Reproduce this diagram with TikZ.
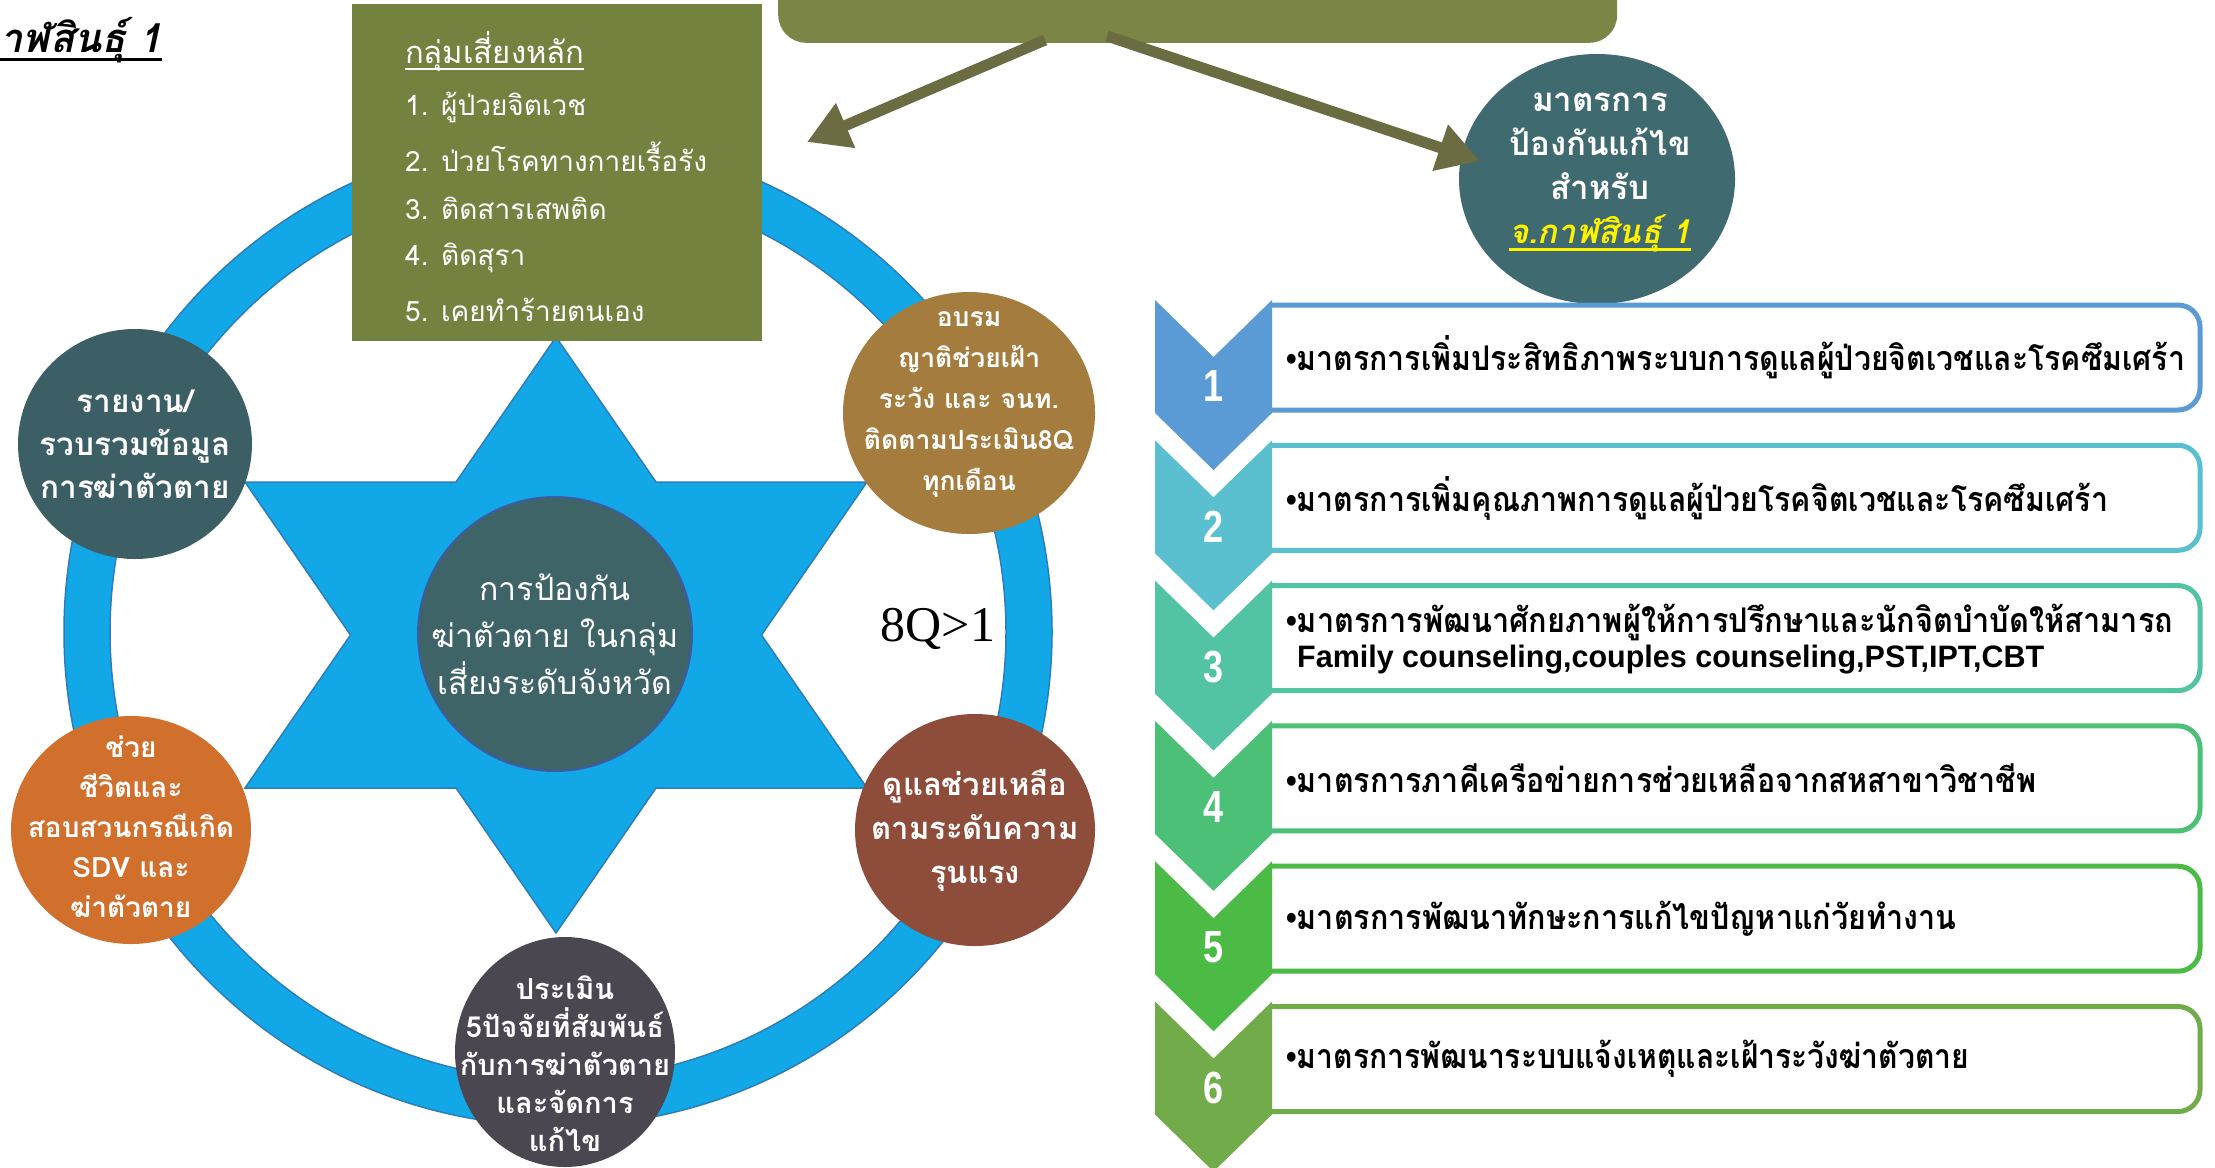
\documentclass[tikz,border=0pt]{standalone}
\usepackage{fontspec}
\usepackage{graphicx}
\setmainfont{Liberation Sans}
\newfontfamily\thai[Script=Thai]{Loma}
\newfontfamily\serif{Liberation Serif}
\usetikzlibrary{arrows.meta,shapes.geometric}
\definecolor{olivebox}{HTML}{74823F}
\definecolor{bannerc}{HTML}{7B8546}
\definecolor{arrowc}{HTML}{6C6C43}
\definecolor{ringc}{HTML}{12A8E8}
\definecolor{ringedge}{HTML}{2C7DB8}
\definecolor{ctrc}{HTML}{3F6468}
\definecolor{ctrborder}{HTML}{3B5DA6}
\definecolor{tealc}{HTML}{3C5E65}
\definecolor{browna}{HTML}{A47C3D}
\definecolor{brownb}{HTML}{8E4C3A}
\definecolor{grayp}{HTML}{4B4751}
\definecolor{orangec}{HTML}{D0702C}
\definecolor{ellc}{HTML}{3F6A70}
\definecolor{cha}{HTML}{5B9BD5}
\definecolor{chb}{HTML}{5AC0CF}
\definecolor{chc}{HTML}{52C4A4}
\definecolor{chd}{HTML}{4BC076}
\definecolor{che}{HTML}{4CBB46}
\definecolor{chf}{HTML}{72AC4A}
\newsavebox\ulbox
\newcommand\myul[3]{\sbox\ulbox{#3}\usebox\ulbox\llap{\raisebox{-#1}{\rule{\wd\ulbox}{#2}}}}
\newcommand\fitw[2]{\resizebox{#1}{\height}{#2}}
\newcommand\blt{{\rmfamily •}}
\newcommand\chevrow[3]{%
  \draw[#2, line width=5pt, rounded corners=22pt] (1272,305+#1) -- (2200,305+#1) -- (2200,410+#1) -- (1272,410+#1);
  \fill[#2] (1155,300+#1) -- (1213.5,357+#1) -- (1272,300+#1) -- (1272,413+#1) -- (1213.5,470+#1) -- (1155,413+#1) -- cycle;
  \node[num] (n#3) at (1213.5,386+#1) {\scalebox{0.8}[1]{#3}};
}
\tikzset{
  bubble/.style={ellipse, inner sep=0pt},
  ctxt/.style={text=white, align=center, inner sep=0pt},
  rowtxt/.style={anchor=west, inner sep=0pt, text=black, font=\thai\bfseries\fontsize{34}{36}\selectfont},
  num/.style={text=white, font=\bfseries\fontsize{45}{45}\selectfont, inner sep=0pt},
  arr/.style={draw=arrowc, line width=11pt, -{Triangle[length=42pt,width=46pt]}},
  listtxt/.style={anchor=west, inner sep=0pt, text=white, font=\thai\fontsize{28}{30}\selectfont},
}
\begin{document}
\begin{tikzpicture}[x=1pt,y=-1pt]
\useasboundingbox (0,0) rectangle (2215,1167);
\clip (0,0) rectangle (2215,1167);
\fill[white] (0,0) rectangle (2215,1167);
% ring
\fill[ringc, even odd rule] (558,632) circle[radius=494pt] (558,632) circle[radius=448pt];
\draw[ringedge, line width=1.5pt] (558,632) circle[radius=494pt] (558,632) circle[radius=448pt];
% star
\filldraw[fill=ringc, draw=ringedge, line width=1.5pt, line join=miter]
  (556,337) -- (656,482) -- (867,482) -- (761.5,635) -- (867,788) -- (656,788) -- (556,933)
  -- (456,788) -- (245,788) -- (350.5,635) -- (245,482) -- (456,482) -- cycle;
% circles
\node[bubble, fill=ctrc, draw=ctrborder, line width=2pt, minimum width=274pt, minimum height=274pt] (ctr) at (555,634) {};
\node[ctxt, font=\thai\fontsize{32}{47}\selectfont] at (ctr) {การป้องกัน\\ฆ่าตัวตาย ในกลุ่ม\\เสี่ยงระดับจังหวัด};
\node[bubble, fill=tealc, minimum width=234pt, minimum height=230pt] (c1) at (135,444) {};
\node[ctxt, font=\thai\bfseries\fontsize{31.5}{43}\selectfont] at (c1) {รายงาน/\\รวบรวมข้อมูล\\การฆ่าตัวตาย};
\node[bubble, fill=browna, minimum width=252pt, minimum height=242pt] (c2) at (969,413) {};
\node[ctxt, font=\thai\bfseries\fontsize{26.5}{41}\selectfont] at (969,405) {อบรม\\ญาติช่วยเฝ้า\\ระวัง และ จนท.\\ติดตามประเมิน8Q\\ทุกเดือน};
\node[bubble, fill=brownb, minimum width=240pt, minimum height=232pt] (c3) at (975,830) {};
\node[ctxt, font=\thai\bfseries\fontsize{31}{44}\selectfont] at (c3) {ดูแลช่วยเหลือ\\ตามระดับความ\\รุนแรง};
\node[bubble, fill=grayp, minimum width=220pt, minimum height=230pt] (c4) at (565,1052) {};
\node[ctxt, font=\thai\bfseries\fontsize{29}{38}\selectfont] at (565,1064) {ประเมิน\\5ปัจจัยที่สัมพันธ์\\กับการฆ่าตัวตาย\\และจัดการ\\แก้ไข};
\node[bubble, fill=orangec, minimum width=240pt, minimum height=228pt] (c5) at (131,830) {};
\node[ctxt, font=\thai\bfseries\fontsize{28}{40}\selectfont] at (131,827) {ช่วย\\ชีวิตและ\\สอบสวนกรณีเกิด\\SDV และ\\ฆ่าตัวตาย};
\node[font=\serif\fontsize{50}{50}\selectfont, inner sep=0pt] (q) at (938,629) {8Q>1};
% risk group box
\node[fill=olivebox, minimum width=410pt, minimum height=337pt, anchor=north west, inner sep=0pt] (risk) at (352,4) {};
\node[listtxt, font=\thai\fontsize{31}{32}\selectfont] (l0) at (405,52) {\myul{6pt}{2pt}{กลุ่มเสี่ยงหลัก}};
\node[listtxt] (l1) at (405,107) {1. ผู้ป่วยจิตเวช};
\node[listtxt] (l2) at (405,157) {2. ป่วยโรคทางกายเรื้อรัง};
\node[listtxt] (l3) at (405,208) {3. ติดสารเสพติด};
\node[listtxt] (l4) at (405,258) {4. ติดสุรา};
\node[listtxt] (l5) at (405,310) {5. เคยทำร้ายตนเอง};
% banner
\node[fill=bannerc, rounded corners=28pt, minimum width=839pt, minimum height=140pt, anchor=south west, inner sep=0pt] (banner) at (778,43) {};
% ellipse
\node[bubble, fill=ellc, minimum width=276pt, minimum height=250pt] (ell) at (1597,179) {};
\node[ctxt, font=\thai\bfseries\fontsize{33}{44}\selectfont] at (1600,173) {มาตรการ\\ป้องกันแก้ไข\\สำหรับ\\{\color{yellow}\itshape\myul{7pt}{3pt}{จ.กาฬสินธุ์ 1}}};
% arrows
\coordinate (a1s) at (1045,40);
\coordinate (a1e) at (807,142);
\coordinate (a2s) at (1107,36);
\coordinate (a2e) at (1480,161);
\draw[arr] (a1s) -- (a1e);
\draw[arr] (a2s) -- (a2e);
% top-left title
\node[anchor=base west, inner sep=0pt, font=\thai\bfseries\itshape\fontsize{40}{40}\selectfont] (ttl) at (0,52) {\myul{9pt}{3pt}{าฬสินธุ์ 1}};
% right list
\chevrow{0}{cha}{1}
\chevrow{140.3}{chb}{2}
\chevrow{280.6}{chc}{3}
\chevrow{420.9}{chd}{4}
\chevrow{561.2}{che}{5}
\chevrow{701.5}{chf}{6}
\node[rowtxt] (t1) at (1286,357) {\fitw{899pt}{\blt มาตรการเพิ่มประสิทธิภาพระบบการดูแลผู้ป่วยจิตเวชและโรคซึมเศร้า}};
\node[rowtxt] (t2) at (1286,498) {\fitw{822pt}{\blt มาตรการเพิ่มคุณภาพการดูแลผู้ป่วยโรคจิตเวชและโรคซึมเศร้า}};
\node[rowtxt, align=left, font=\thai\bfseries\fontsize{34}{35}\selectfont] (t3) at (1286,639) {\fitw{887pt}{\blt มาตรการพัฒนาศักยภาพผู้ให้การปรึกษาและนักจิตบำบัดให้สามารถ}\\\hspace*{11pt}{\rmfamily\bfseries\fontsize{31}{35}\selectfont\fitw{747pt}{Family counseling,couples counseling,PST,IPT,CBT}}};
\node[rowtxt] (t4) at (1286,778) {\fitw{750pt}{\blt มาตรการภาคีเครือข่ายการช่วยเหลือจากสหสาขาวิชาชีพ}};
\node[rowtxt] (t5) at (1286,919) {\fitw{670pt}{\blt มาตรการพัฒนาทักษะการแก้ไขปัญหาแก่วัยทำงาน}};
\node[rowtxt] (t6) at (1286,1059) {\fitw{683pt}{\blt มาตรการพัฒนาระบบแจ้งเหตุและเฝ้าระวังฆ่าตัวตาย}};
\end{tikzpicture}
\end{document}
